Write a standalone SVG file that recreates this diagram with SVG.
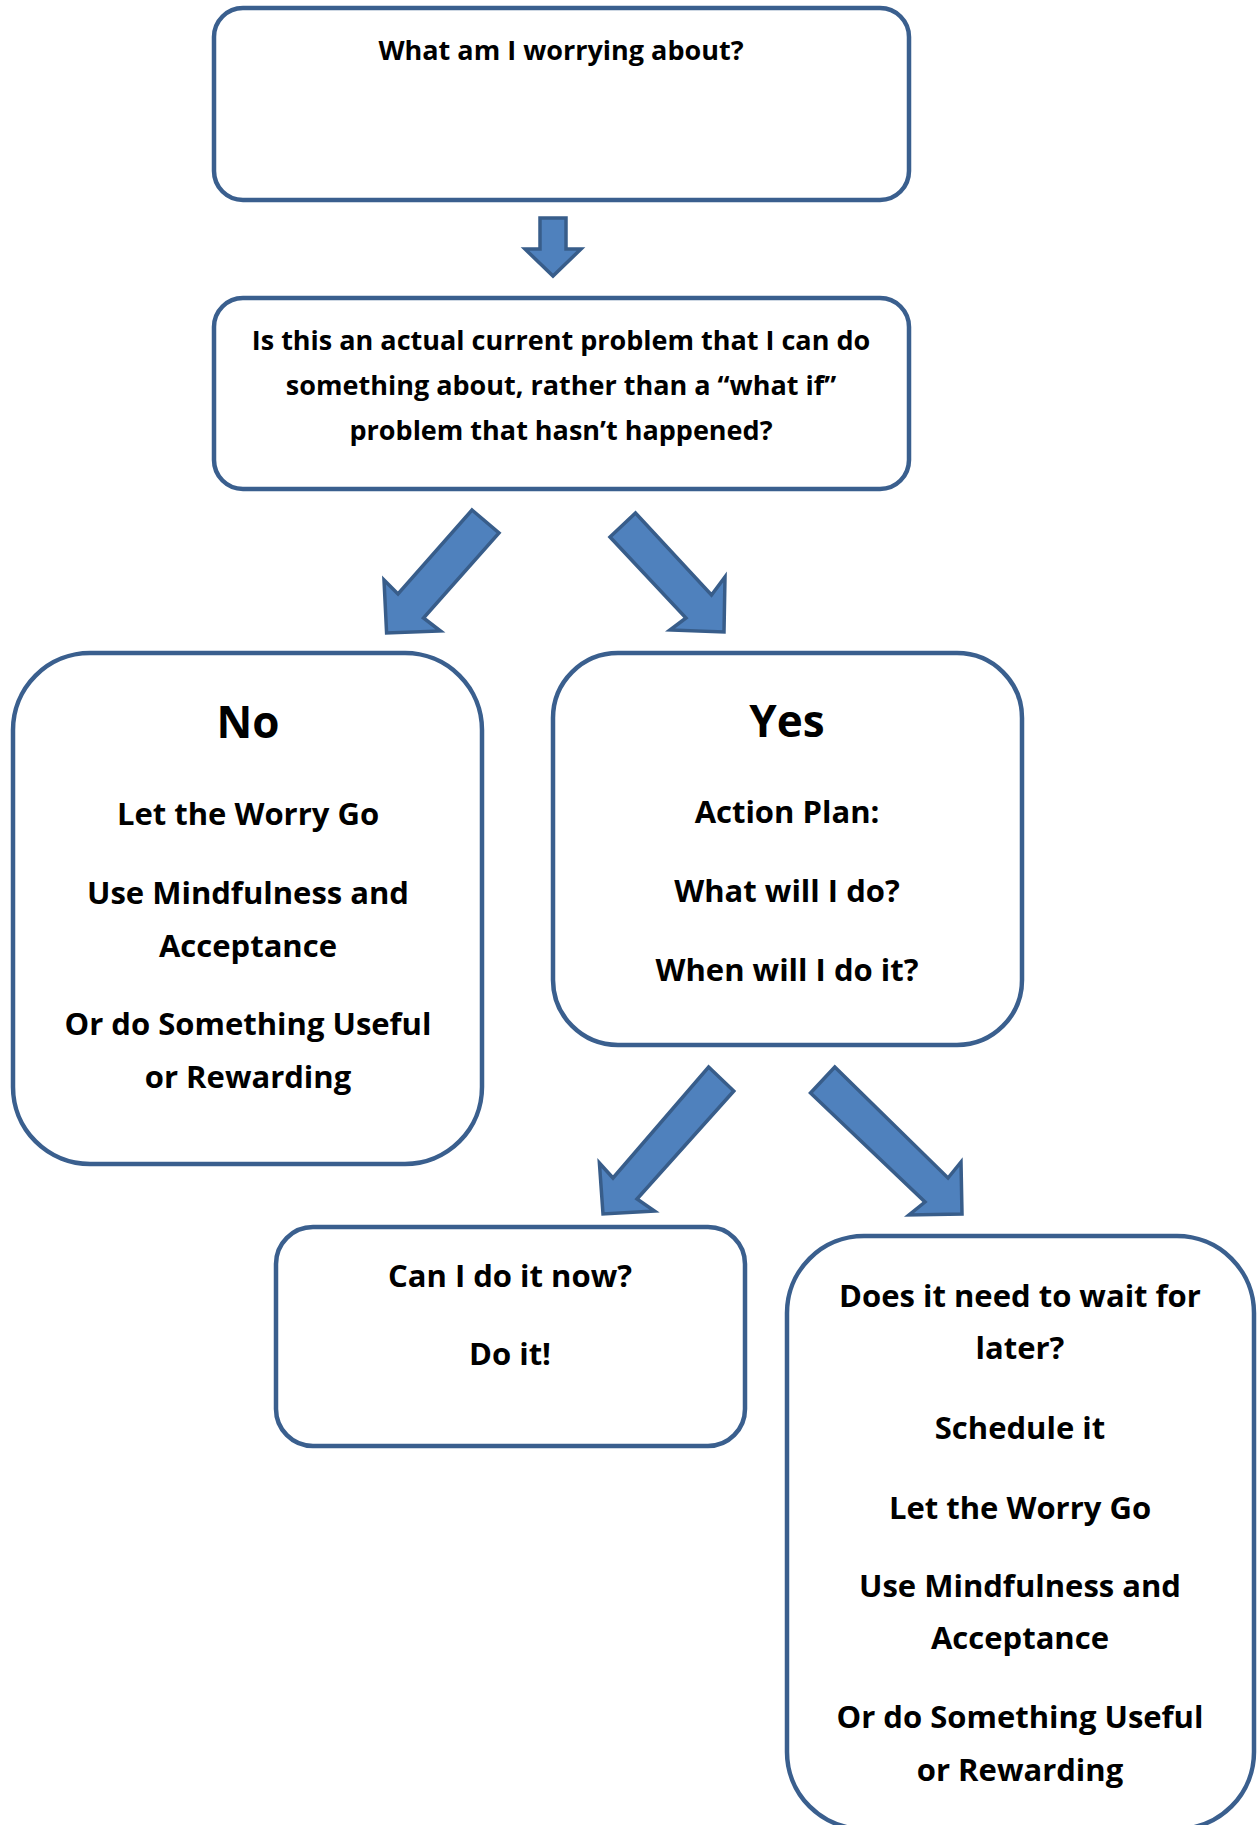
<svg xmlns="http://www.w3.org/2000/svg" width="1260" height="1825" viewBox="0 0 1260 1825">
<style>
.box{fill:#ffffff;stroke:#3A5F8E;stroke-width:4.5}
.arr{fill:#4F81BD;stroke:#385D8A;stroke-width:3.5;stroke-linejoin:miter}
text{font-family:"Open Sans","Noto Sans","Liberation Sans",sans-serif;font-weight:bold;fill:#000;text-anchor:middle}
.s{font-size:27px}
.m{font-size:31px}
.l{font-size:44px}
</style>
<rect width="1260" height="1825" fill="#ffffff"/>
<g id="connectors">
<polygon class="arr" points="540,218 566,218 566,249 581,249 553,276 525,249 540,249"/>
<polygon class="arr" points="472,510 499,533 423.5,618 440.5,631 386.6,633 384,580 398,594"/>
<polygon class="arr" points="610,537 635.5,513 711.5,595 725,577 724,632 670,630 686,618"/>
<polygon class="arr" points="708.6,1067 733.8,1091 637,1199 654.5,1211 603,1214 599.4,1163 613,1178"/>
<polygon class="arr" points="810.5,1093 834.8,1067 948,1178 961,1162 962,1214 909,1215 925,1202"/>
</g>
<g id="worry">
<rect class="box" x="214" y="8" width="695" height="192" rx="29"/>
<text class="s" x="561" y="60">What am I worrying about?</text>
</g>
<g id="question">
<rect class="box" x="214" y="298" width="695" height="191" rx="29"/>
<text class="s" x="561" y="350">Is this an actual current problem that I can do</text>
<text class="s" x="561" y="395">something about, rather than a “what if”</text>
<text class="s" x="561" y="440">problem that hasn’t happened?</text>
</g>
<g id="no">
<rect class="box" x="13" y="653" width="469" height="511" rx="77"/>
<text class="l" x="248" y="738">No</text>
<text class="m" x="248" y="825">Let the Worry Go</text>
<text class="m" x="248" y="904">Use Mindfulness and</text>
<text class="m" x="248" y="957">Acceptance</text>
<text class="m" x="248" y="1035">Or do Something Useful</text>
<text class="m" x="248" y="1088">or Rewarding</text>
</g>
<g id="yes">
<rect class="box" x="553" y="653" width="469" height="392" rx="65"/>
<text class="l" x="787" y="737">Yes</text>
<text class="m" x="787" y="823">Action Plan:</text>
<text class="m" x="787" y="902">What will I do?</text>
<text class="m" x="787" y="981">When will I do it?</text>
</g>
<g id="now">
<rect class="box" x="276" y="1227" width="469" height="219" rx="37"/>
<text class="m" x="510" y="1287">Can I do it now?</text>
<text class="m" x="510" y="1365">Do it!</text>
</g>
<g id="later">
<rect class="box" x="787" y="1236" width="467" height="593" rx="77"/>
<text class="m" x="1020" y="1307">Does it need to wait for</text>
<text class="m" x="1020" y="1359">later?</text>
<text class="m" x="1020" y="1439">Schedule it</text>
<text class="m" x="1020" y="1519">Let the Worry Go</text>
<text class="m" x="1020" y="1597">Use Mindfulness and</text>
<text class="m" x="1020" y="1649">Acceptance</text>
<text class="m" x="1020" y="1728">Or do Something Useful</text>
<text class="m" x="1020" y="1781">or Rewarding</text>
</g>
</svg>
